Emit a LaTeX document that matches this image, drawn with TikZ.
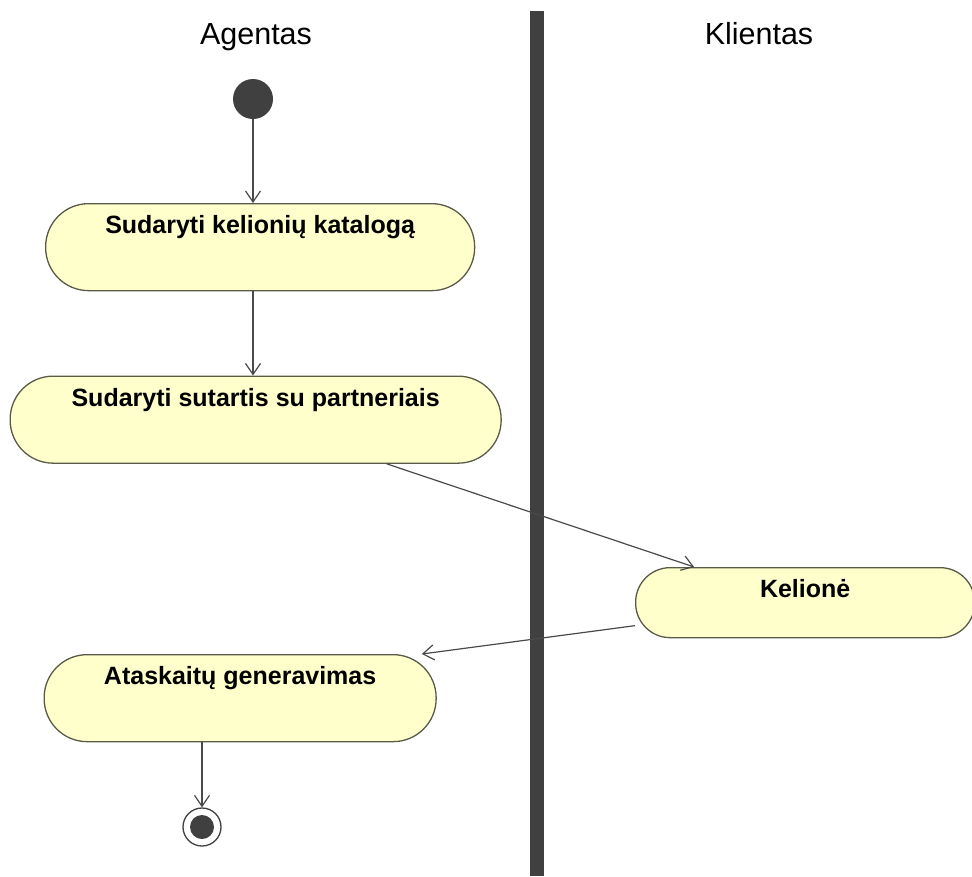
\documentclass[tikz,border=0pt]{standalone}
\usepackage{fontspec}
\setmainfont{Liberation Sans}
\usepackage{tikz}
\usetikzlibrary{arrows.meta, positioning, calc}
\definecolor{actfill}{HTML}{FFFFCC}
\definecolor{actborder}{HTML}{5A5A48}
\definecolor{lanegray}{HTML}{404040}
\definecolor{flowgray}{HTML}{4A4A4A}

\begin{document}
\begin{tikzpicture}[x=1pt, y=-1pt,
  activity/.style={draw=actborder, fill=actfill, line width=1.3pt, rounded corners=43pt,
    inner sep=0pt, anchor=north west, text height=30pt,
    font=\fontsize{25}{30}\selectfont\bfseries},
  flow/.style={-{Straight Barb[length=11pt,width=15pt,line width=1.2pt]}, draw=flowgray, line width=1.2pt},
  lane/.style={anchor=base, font=\fontsize{30.5}{36}\selectfont}]
  \useasboundingbox (0,0) rectangle (972,876);
  \clip (0,0) rectangle (972,876);

  % Swimlanes
  \fill[lanegray] (530,11) rectangle (544,876);
  \node[lane] (agentas) at (256,44) {Agentas};
  \node[lane] (klientas) at (759,44) {Klientas};

  % Start and end
  \node[circle, fill=lanegray, minimum size=40pt, inner sep=0pt] (start) at (253,99) {};
  \node[circle, draw=lanegray, line width=1.3pt, minimum size=38pt, inner sep=0pt] (end) at (202,827) {};
  \fill[lanegray] (end) circle (12pt);

  % Activities
  \node[activity, minimum width=429pt, minimum height=87pt, text depth=57pt] (katalogas) at (45,203) {Sudaryti kelionių katalogą};
  \node[activity, minimum width=491pt, minimum height=87pt, text depth=57pt] (sutartis) at (9.5,375.5) {Sudaryti sutartis su partneriais};
  \node[activity, minimum width=339pt, minimum height=70pt, text depth=40pt, rounded corners=34.5pt] (kelione) at (635,567) {Kelionė};
  \node[activity, minimum width=392pt, minimum height=87pt, text depth=57pt] (ataskaitos) at (43.5,654) {Ataskaitų generavimas};

  % Flows
  \draw[flow] (start) -- (start |- katalogas.north);
  \draw[flow] (start |- katalogas.south) -- (start |- sutartis.north);
  \draw[flow] ([xshift=131pt]sutartis.south) -- ([xshift=-111pt]kelione.north);
  \draw[flow] ([yshift=-23pt]kelione.west) -- ([xshift=-15pt]ataskaitos.north east);
  \draw[flow] (end |- ataskaitos.south) -- (end);
\end{tikzpicture}
\end{document}
